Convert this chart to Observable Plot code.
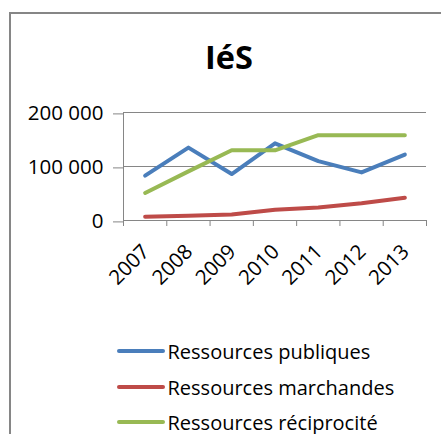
<!DOCTYPE html>
<html>
<head>
<meta charset="utf-8">
<script src="https://cdn.jsdelivr.net/npm/d3@7"></script>
<script src="https://cdn.jsdelivr.net/npm/@observablehq/plot@0.6"></script>
<style>
  html, body { margin: 0; padding: 0; background: #fff; }
  #wrap { position: relative; width: 441px; height: 434px; overflow: hidden; font-family: "Open Sans", sans-serif; color: #000; }
  #frame { position: absolute; left: 9px; top: 12px; width: 600px; height: 600px; border: 2px solid #868686; box-sizing: border-box; }
  #title { position: absolute; left: 0; width: 458px; top: 36.7px; text-align: center; font-weight: bold; font-size: 32.5px; line-height: 40px; }
  #chart { position: absolute; left: 0; top: 0; }
  .row { position: absolute; left: 117px; height: 30px; }
  .sw { position: absolute; left: 0; top: 12.4px; width: 48px; height: 4px; border-radius: 2px; }
  .lab { position: absolute; left: 50.5px; top: 0; font-size: 20px; line-height: 30px; white-space: nowrap; }
</style>
</head>
<body>
<div id="wrap">
  <div id="frame"></div>
  <div id="title"></div>
  <div id="chart"></div>
  <div id="legend"></div>
</div>
<script>
const title = "IéS";
const years = [2007, 2008, 2009, 2010, 2011, 2012, 2013];
const seriesNames = ["Ressources publiques", "Ressources marchandes", "Ressources réciprocité"];
const publiques = [83000, 135000, 86000, 143000, 110000, 89000, 122000];
const marchandes = [7000, 9000, 11000, 20000, 24000, 32000, 42000];
const reciprocite = [51000, 91000, 130000, 130000, 158000, 158000, 158000];
const colors = ["#4A7EBB", "#BE4B48", "#98B954"];
const yTicks = [0, 100000, 200000];

document.getElementById("title").textContent = title;

const seriesValues = [publiques, marchandes, reciprocite];
const data = [];
seriesNames.forEach((s, i) => years.forEach((yr, j) => data.push({series: s, year: yr, value: seriesValues[i][j]})));
const boundaries = years.map(y => y - 0.5).concat([years[years.length - 1] + 0.5]);
const fmt = v => d3.format(",")(v).replace(/,/g, " ");
const grid = "#868686";

const chart = Plot.plot({
  width: 441, height: 300,
  marginLeft: 123, marginRight: 15, marginTop: 112, marginBottom: 80,
  x: {domain: [boundaries[0], boundaries[boundaries.length - 1]], axis: null, label: null},
  y: {domain: [0, 200000], axis: null, label: null},
  color: {domain: seriesNames, range: colors},
  style: {fontFamily: "'Open Sans', sans-serif", fontSize: "20.5px", color: "#000", background: "transparent", overflow: "visible"},
  marks: [
    Plot.gridY(yTicks, {stroke: grid, strokeOpacity: 1, strokeWidth: 1}),
    Plot.frame({anchor: "left", stroke: grid, strokeWidth: 1}),
    Plot.frame({anchor: "bottom", stroke: grid, strokeWidth: 1}),
    Plot.axisY(yTicks, {tickSize: 10, tickPadding: 10, stroke: grid, strokeOpacity: 1, tickFormat: fmt, fontSize: 20.5, fill: "#000", dy: 1.4, label: null}),
    Plot.axisX(boundaries, {tickSize: 6, stroke: grid, strokeOpacity: 1, tickFormat: () => "", label: null}),
    Plot.text(years, {x: d => d, y: () => 0, text: d => String(d), rotate: -45, textAnchor: "end", dy: 27.8, dx: 0.8, fontSize: 20.5, fill: "#000"}),
    Plot.line(data, {x: "year", y: "value", stroke: "series", z: "series", strokeWidth: 4, strokeLinejoin: "round", strokeLinecap: "round"})
  ]
});
document.getElementById("chart").appendChild(chart);

const legend = document.getElementById("legend");
const rowTops = [336.9, 372.5, 408.1];
seriesNames.forEach((s, i) => {
  const row = document.createElement("div");
  row.className = "row";
  row.style.top = rowTops[i] + "px";
  const sw = document.createElement("div");
  sw.className = "sw";
  sw.style.background = colors[i];
  const lab = document.createElement("div");
  lab.className = "lab";
  lab.textContent = s;
  row.appendChild(sw);
  row.appendChild(lab);
  legend.appendChild(row);
});
</script>
</body>
</html>
